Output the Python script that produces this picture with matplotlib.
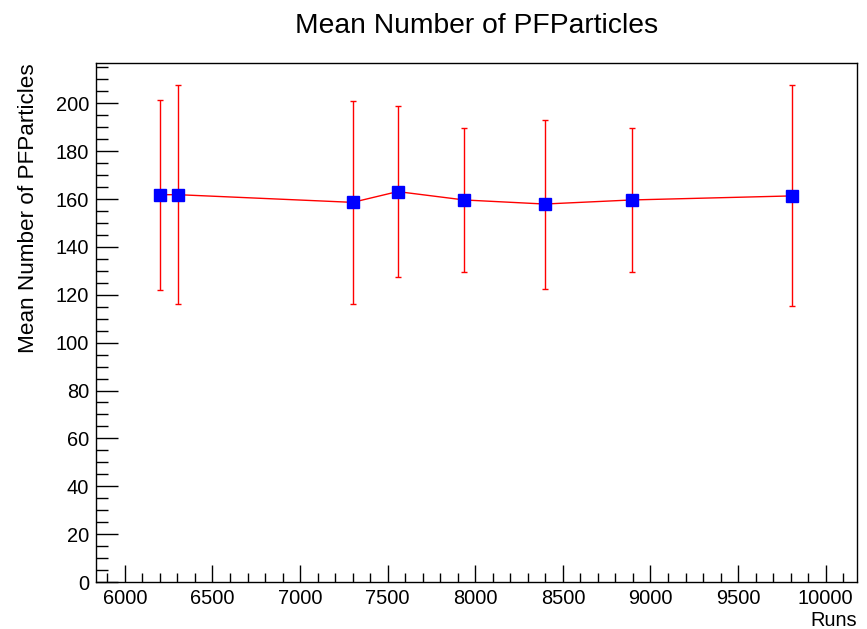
import matplotlib
matplotlib.use("Agg")
import matplotlib.pyplot as plt
from matplotlib.ticker import MultipleLocator

plt.rcParams["font.family"] = ["Liberation Sans", "DejaVu Sans"]

# values
runs = [6200, 6306, 7300, 7557, 7937, 8396, 8893, 9810]
mean_pf = [161.8, 161.8, 158.6, 163.1, 159.6, 157.9, 159.6, 161.3]
err_pf = [39.7, 45.8, 42.4, 35.6, 30.2, 35.3, 29.9, 46.2]

fig = plt.figure(figsize=(8.67, 6.29), dpi=100)
ax = fig.add_axes([0.1107, 0.0747, 0.8774, 0.8247])

ax.errorbar(runs, mean_pf, yerr=err_pf, color="#ff0000", lw=1.0,
            elinewidth=1.0, capsize=2.5, capthick=1.0,
            marker="s", ms=8.5, mfc="#0000ff", mec="#0000ff", zorder=3)

ax.set_xlim(5835, 10177)
ax.set_ylim(0, 216.7)
ax.xaxis.set_major_locator(MultipleLocator(500))
ax.xaxis.set_minor_locator(MultipleLocator(100))
ax.yaxis.set_major_locator(MultipleLocator(20))
ax.yaxis.set_minor_locator(MultipleLocator(5))

ax.tick_params(axis="both", which="both", direction="in", top=False,
               right=False, labelsize=14.4, width=1.0, color="black")
ax.tick_params(axis="y", which="major", length=16, pad=5)
ax.tick_params(axis="y", which="minor", length=8.4)
ax.tick_params(axis="x", which="major", length=12, pad=5)
ax.tick_params(axis="x", which="minor", length=6.3)
for side in ["left", "bottom", "top", "right"]:
    ax.spines[side].set_linewidth(1.0)
    ax.spines[side].set_color("black")

ax.set_title("Mean Number of PFParticles", fontsize=20.3, pad=22)
ax.set_ylabel("Mean Number of PFParticles", fontsize=16.2, loc="top", labelpad=12)
ax.set_xlabel("Runs", fontsize=14.4, loc="right", labelpad=2)

fig.savefig("out.png", dpi=100, facecolor="white")
